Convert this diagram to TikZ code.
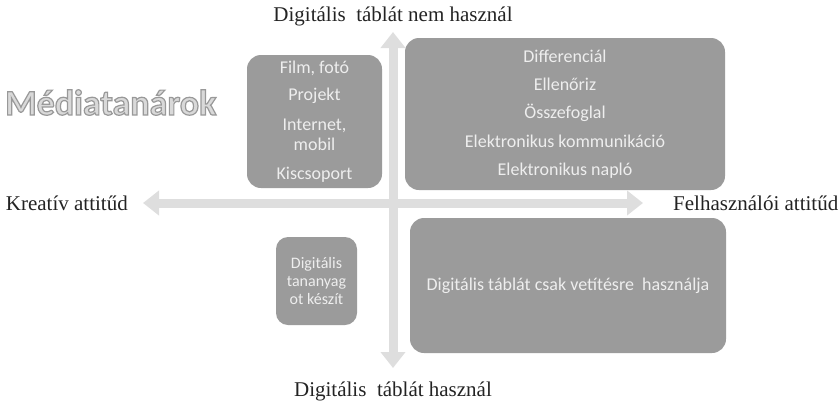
\documentclass[tikz,border=0pt]{standalone}
\usepackage{fontspec}
\setmainfont{Liberation Serif}
\newfontfamily\boxfont{Carlito}
\usetikzlibrary{arrows.meta, positioning}
\definecolor{boxgray}{RGB}{155,155,155}
\definecolor{boxtext}{RGB}{238,238,238}
\definecolor{axisgray}{RGB}{222,222,222}
\definecolor{labelgray}{RGB}{35,35,35}
\definecolor{mediafill}{RGB}{217,217,217}
\tikzset{
    quadbox/.style={fill=boxgray, text=boxtext, rounded corners=14pt, align=center, inner sep=0pt},
    axislabel/.style={text=labelgray, inner sep=0pt, font=\fontsize{21}{24}\selectfont},
    axisline/.style={draw=axisgray, line width=9pt, {Triangle[width=24pt,length=16pt]}-{Triangle[width=24pt,length=16pt]}}
}

\begin{document}
\begin{tikzpicture}[x=1pt, y=-1pt]
    \useasboundingbox (0,0) rectangle (840,402);

    % Axis ends
    \coordinate (wtip) at (143,203);
    \coordinate (etip) at (643,203);
    \coordinate (ntip) at (393,32);
    \coordinate (stip) at (393,368);

    % Axes
    \draw[axisline] (wtip) -- (etip);
    \draw[axisline] (stip) -- (ntip);

    % Axis labels
    \node[axislabel, left=15pt of wtip] (kreativ) {Kreatív attitűd};
    \node[axislabel, right=30pt of etip] (felhasznaloi) {Felhasználói attitűd};
    \node[axislabel, above=6pt of ntip] (nemhasznal) {Digitális\ \ táblát nem használ};
    \node[axislabel, below=14pt of stip] (hasznal) {Digitális\ \ táblát használ};

    % Title
    \node[anchor=base west, inner sep=0pt, text=mediafill, font=\boxfont\bfseries\fontsize{36}{40}\selectfont] (media) at (5,115)
        {\special{pdf:literal direct 2 Tr 1.2 w 0.6 0.6 0.6 RG}Médiatanárok\special{pdf:literal direct 0 Tr}};

    % Quadrant boxes
    \node[quadbox, minimum width=135pt, minimum height=133pt, font=\boxfont\fontsize{18}{19.5}\selectfont] (kreatbox) at (314.5,121.5)
        {Film, fotó\\[7.5pt] Projekt\\[10.5pt] Internet,\\ mobil\\[9.5pt] Kiscsoport};
    \node[quadbox, minimum width=320pt, minimum height=152pt, font=\boxfont\fontsize{18}{28.3}\selectfont] (felhbox) at (565,114)
        {Differenciál\\ Ellenőriz\\ Összefoglal\\ Elektronikus kommunikáció\\ Elektronikus napló};
    \node[quadbox, rounded corners=12pt, minimum width=81pt, minimum height=88pt, font=\boxfont\fontsize{16}{18}\selectfont] (tananyag) at (316.5,281)
        {Digitális\\ tananyag\\ ot készít};
    \node[quadbox, minimum width=316pt, minimum height=135pt, font=\boxfont\fontsize{18}{21}\selectfont] (vetites) at (568,285.5)
        {Digitális táblát csak vetítésre\ \ használja};
\end{tikzpicture}
\end{document}
